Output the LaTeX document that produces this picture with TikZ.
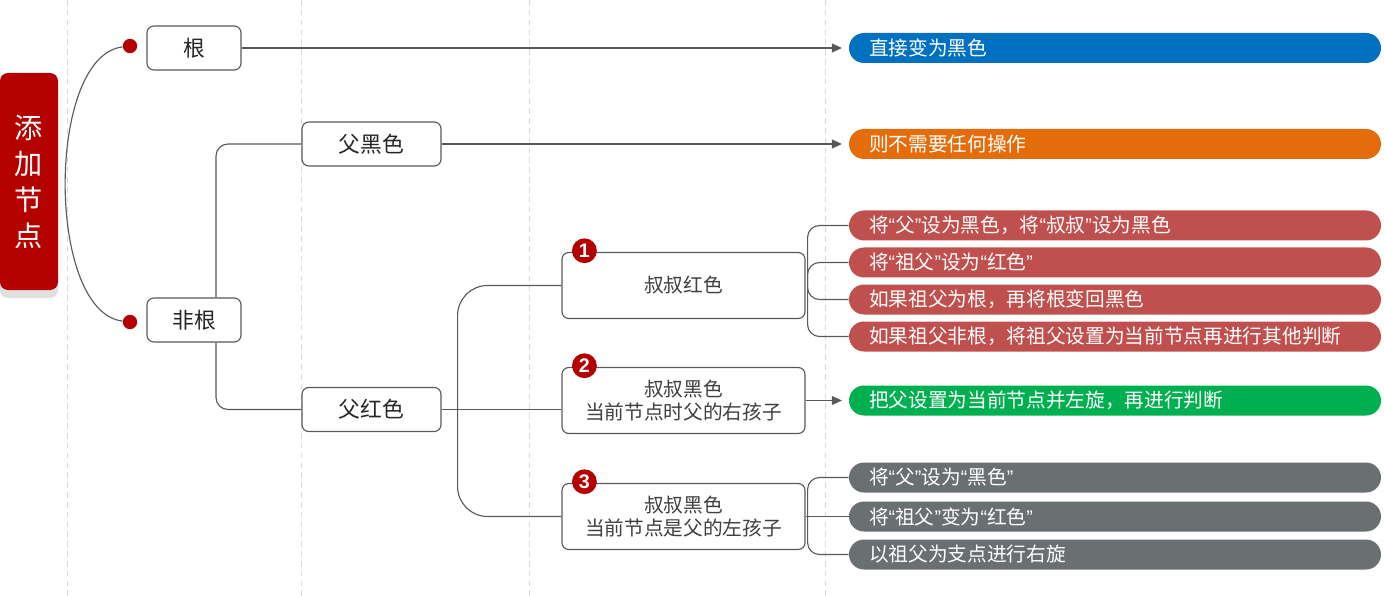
\documentclass[tikz,border=0pt]{standalone}
\usepackage{fontspec}
\setmainfont{Noto Sans CJK SC}
\newfontfamily\badgefont{Liberation Sans}
\newcommand\oq{{\badgefont “}}
\newcommand\cq{{\badgefont ”}}
\usetikzlibrary{arrows.meta,calc}

\definecolor{rootred}{HTML}{B50000}
\definecolor{linegray}{HTML}{595959}
\definecolor{guidegray}{HTML}{D9D9D9}
\definecolor{textgray}{HTML}{3F3F3F}
\definecolor{pillblue}{HTML}{0070C0}
\definecolor{pillorange}{HTML}{E46C0A}
\definecolor{pillred}{HTML}{C0504D}
\definecolor{pillgreen}{HTML}{00B050}
\definecolor{pillgray}{HTML}{6A6F71}

\tikzstyle{guide}=[guidegray,line width=0.6pt,dash pattern=on 4pt off 3pt]
\tikzstyle{rootbox}=[rectangle,rounded corners=0.2cm,fill=rootred,text=white,minimum width=1.45cm,minimum height=5.425cm,align=center,font=\fontsize{20}{25.6}\selectfont]
\tikzstyle{rootshadow}=[rectangle,rounded corners=0.2cm,fill=black!12,minimum width=1.45cm,minimum height=5.425cm]
\tikzstyle{dot}=[circle,fill=rootred,minimum size=0.36cm,inner sep=0pt]
\tikzstyle{topbox}=[rectangle,rounded corners=0.17cm,draw=linegray,line width=0.8pt,fill=white,text=black!85,minimum height=1.1cm,font=\fontsize{15.5}{18}\selectfont]
\tikzstyle{case}=[rectangle,rounded corners=0.17cm,draw=linegray,line width=0.8pt,fill=white,text=textgray,minimum width=6.075cm,minimum height=1.65cm,align=center,font=\fontsize{14}{17}\selectfont]
\tikzstyle{badge}=[circle,fill=rootred,text=white,minimum size=0.62cm,inner sep=0pt,font=\badgefont\bfseries\fontsize{14}{14}\selectfont]
\tikzstyle{pill}=[rectangle,rounded corners=0.375cm,text=white,minimum height=0.75cm,text width=12.3cm,inner xsep=0.5cm,inner ysep=0pt,align=left,font=\fontsize{14}{16}\selectfont]
\tikzstyle{link}=[linegray,line width=0.8pt]
\tikzstyle{pointer}=[link,-{Triangle[length=0.25cm,width=0.22cm]},shorten >=0.17cm]

\begin{document}
\begin{tikzpicture}
    \useasboundingbox (0,0) rectangle (34.6,-14.9);

    \draw[guide] (1.675,0) -- (1.675,-14.9);
    \draw[guide] (7.525,0) -- (7.525,-14.9);
    \draw[guide] (13.225,0) -- (13.225,-14.9);
    \draw[guide] (20.625,0) -- (20.625,-14.9);

    \node (shade) at (0.725,-4.7375) [rootshadow] {};
    \node (root) at (0.725,-4.5375) [rootbox] {添\\加\\节\\点};

    \node (isroot)  at (4.85,-1.2)     [topbox,minimum width=2.35cm] {根};
    \node (notroot) at (4.85,-8.0)     [topbox,minimum width=2.35cm] {非根};
    \node (pblack)  at (9.2875,-3.6)   [topbox,minimum width=3.475cm] {父黑色};
    \node (pred)    at (9.2875,-10.2375) [topbox,minimum width=3.475cm] {父红色};

    \node (caseA) at (17.0875,-7.1375)  [case] {叔叔红色};
    \node (caseB) at (17.0875,-10.0125) [case] {叔叔黑色\\当前节点时父的右孩子};
    \node (caseC) at (17.0875,-12.9125) [case] {叔叔黑色\\当前节点是父的左孩子};

    \node (na) at ($(caseA.north west)+(0.575,0.03)$) [badge] {1};
    \node (nb) at ($(caseB.north west)+(0.575,0.03)$) [badge] {2};
    \node (nc) at ($(caseC.north west)+(0.575,0.03)$) [badge] {3};

    \node (toblack) at (27.875,-1.2)     [pill,fill=pillblue] {直接变为黑色};
    \node (noop)    at (27.875,-3.6)     [pill,fill=pillorange] {则不需要任何操作};
    \node (ra)      at (27.875,-5.6375)  [pill,fill=pillred] {将\oq 父\cq 设为黑色，将\oq 叔叔\cq 设为黑色};
    \node (rb)      at (27.875,-6.5625)  [pill,fill=pillred] {将\oq 祖父\cq 设为\oq 红色\cq};
    \node (rc)      at (27.875,-7.4875)  [pill,fill=pillred] {如果祖父为根，再将根变回黑色};
    \node (rd)      at (27.875,-8.4125)  [pill,fill=pillred] {如果祖父非根，将祖父设置为当前节点再进行其他判断};
    \node (rotl)    at (27.875,-10.0125) [pill,fill=pillgreen] {把父设置为当前节点并左旋，再进行判断};
    \node (ga)      at (27.875,-11.9375) [pill,fill=pillgray] {将\oq 父\cq 设为\oq 黑色\cq};
    \node (gb)      at (27.875,-12.9125) [pill,fill=pillgray] {将\oq 祖父\cq 变为\oq 红色\cq};
    \node (gc)      at (27.875,-13.8625) [pill,fill=pillgray] {以祖父为支点进行右旋};

    \node (da) at (3.25,-1.15) [dot] {};
    \node (db) at (3.25,-8.05) [dot] {};

    \draw[link] (da) .. controls (1.15,-1.4) and (1.15,-7.8) .. (db);

    \draw[pointer] (isroot) -- (toblack);
    \draw[pointer] (pblack) -- (noop);

    \draw[link,rounded corners=0.3cm] ($(notroot.north)+(0.55,0)$) |- (pblack);
    \draw[link,rounded corners=0.3cm] ($(notroot.south)+(0.55,0)$) |- (pred);

    \draw[link] (pred) -- (pred -| caseB.west);
    \draw[link,rounded corners=0.75cm] ($(pred.east)+(0.4,0)$) |- (caseA);
    \draw[link,rounded corners=0.75cm] ($(pred.east)+(0.4,0)$) |- (caseC);

    \draw[link,rounded corners=0.3cm] ($(caseA.east)+(0.05,0)$) |- (ra);
    \draw[link,rounded corners=0.3cm] ($(caseA.east)+(0.05,0)$) |- (rb);
    \draw[link,rounded corners=0.3cm] ($(caseA.east)+(0.05,0)$) |- (rc);
    \draw[link,rounded corners=0.3cm] ($(caseA.east)+(0.05,0)$) |- (rd);

    \draw[pointer] (caseB) -- (rotl);

    \draw[link,rounded corners=0.3cm] ($(caseC.east)+(0.05,0)$) |- (ga);
    \draw[link] (caseC) -- (gb);
    \draw[link,rounded corners=0.3cm] ($(caseC.east)+(0.05,0)$) |- (gc);
\end{tikzpicture}
\end{document}
